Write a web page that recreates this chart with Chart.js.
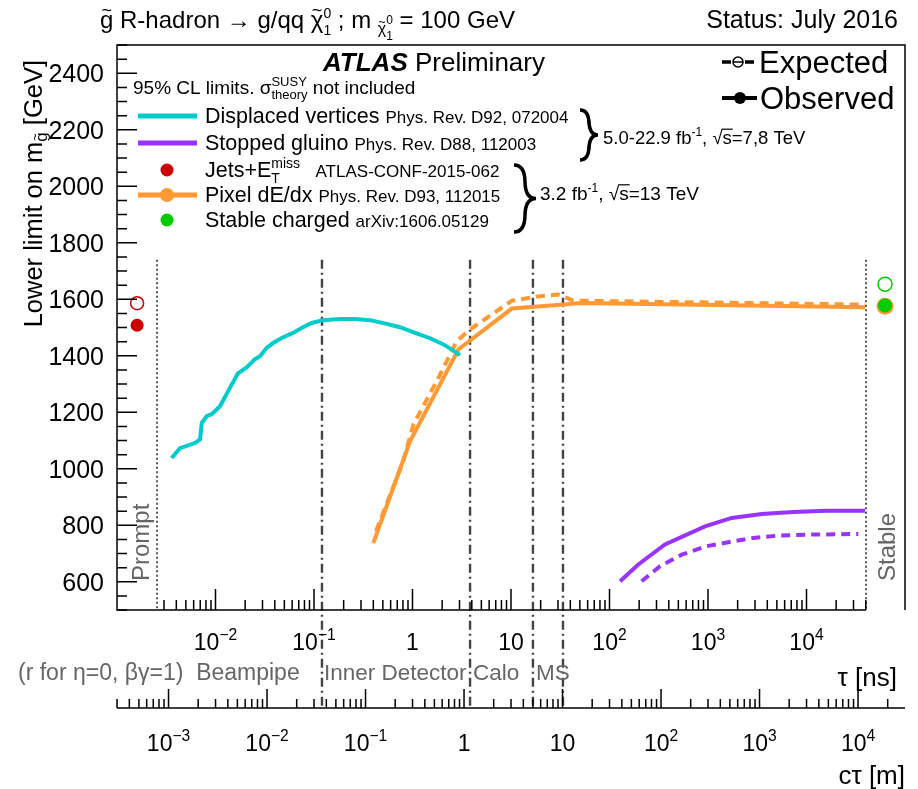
<!DOCTYPE html>
<html>
<head>
<meta charset="utf-8">
<script src="https://cdn.jsdelivr.net/npm/chart.js@4.4.0/dist/chart.umd.min.js"></script>
<style>html,body{margin:0;padding:0;background:#fff}</style>
</head>
<body>
<canvas id="c" width="918" height="789"></canvas>
<script>
// Displaced vertices (observed)
const dvTau  = [0.00359,0.00436,0.00619,0.00697,0.00725,0.00814,0.00914,0.0111,0.0134,0.0169,0.0207,0.0252,0.0283,0.0331,0.0384,0.0470,0.0612,0.0773,0.0947,0.123,0.184,0.261,0.371,0.547,0.746,1.01,1.51,2.04,2.58,3.03];
const dvMass = [1038,1073,1091,1104,1162,1186,1193,1221,1274,1338,1359,1388,1398,1428,1445,1463,1481,1501,1516,1526,1530,1530,1526,1513,1501,1484,1462,1441,1419,1402];

// Stopped gluino
const sgObsTau = [128,196,366,933,1742,3510,7350,16000,39300];
const sgObs    = [602,661,732,796,826,840,847,851,851];
const sgExpTau = [212,326,541,970,1807,2884,5383,10860,33570];
const sgExp    = [602,655,696,726,743,755,764,767,769];

// Pixel dE/dx
const pixObsTau = [0.400,0.944,2.92,10.2,34,50.2,39300];
const pixObs    = [737,1097,1422,1567,1581,1587,1572];
const pixExpTau = [0.426,0.807,1.02,1.76,2.81,3.84,10.2,19.7,30.2,42.9,39300];
const pixExp    = [779,1027,1156,1310,1451,1493,1595,1611,1617,1595,1581];
const pixStableTau = [62700];
const pixStable    = [1575];

// Jets+MET (prompt) and stable charged
const jetsTau = [0.0016];
const jetsObs = [1508];
const jetsExp = [1586];
const stableTau = [62700];
const stableObs = [1578];
const stableExp = [1653];

// detector boundaries / region lines (tau in ns)
const promptTau = 0.00255;
const stableLineTau = 40200;
const detTau = [0.1205, 3.84, 16.7, 33.7];

// axis ticks
const tauTickVals = [1e-2,1e-1,1,10,1e2,1e3,1e4];
const tauTickLabels = ['10^−2','10^−1','1','10','10^2','10^3','10^4'];
const ctTickVals = [1e-3,1e-2,1e-1,1,10,1e2,1e3,1e4];
const ctTickLabels = ['10^−3','10^−2','10^−1','1','10','10^2','10^3','10^4'];
const massTicks = [600,800,1000,1200,1400,1600,1800,2000,2200,2400];

const C_LIGHT = 0.299792458; // m/ns

const cyan = '#00CCCC', purple = '#9933FF', orange = '#FF9933', red = '#CC0000', green = '#00CC00';

const FONT = "'Liberation Sans', Arial, Helvetica, sans-serif";
function fnt(s, b, i) { return (i ? 'italic ' : '') + (b ? 'bold ' : '') + s + 'px ' + FONT; }

function zip(xs, ys) { return xs.map((x, i) => ({ x: x, y: ys[i] })); }

// draws a row of text pieces with sub/superscripts
function drawRich(ctx, x, y, segs, o) {
    o = o || {};
    const base = o.s || 20;
    const widths = segs.map(sg => {
        const s = sg.s || base;
        ctx.font = fnt(s, sg.b, sg.i);
        const w = sg.stack ? Math.max(...sg.stack.map(p => ctx.measureText(p.t).width)) : ctx.measureText(sg.t).width;
        return w + (sg.gap || 0);
    });
    const total = widths.reduce((a, b) => a + b, 0);
    let cx = o.align === 'center' ? x - total / 2 : o.align === 'right' ? x - total : x;
    ctx.textAlign = 'left';
    ctx.textBaseline = 'alphabetic';
    segs.forEach((sg, k) => {
        const s = sg.s || base;
        const parts = sg.stack || [{ t: sg.t, dy: 0 }];
        parts.forEach(p => {
            ctx.save();
            ctx.fillStyle = sg.c || o.c || '#000';
            ctx.strokeStyle = sg.c || o.c || '#000';
            ctx.font = fnt(s, sg.b, sg.i);
            ctx.translate(cx, y + (sg.dy || 0) + (p.dy || 0));
            ctx.fillText(p.t, 0, 0);
            const w = ctx.measureText(p.t).width;
            if (sg.tilde) {
                ctx.font = fnt(s * 0.75);
                ctx.textAlign = 'center';
                ctx.fillText('~', w / 2, -s * 0.5);
            }
            if (sg.over) {
                ctx.lineWidth = 1.2;
                ctx.beginPath();
                ctx.moveTo(-1, -s * 0.8);
                ctx.lineTo(w + 1, -s * 0.8);
                ctx.stroke();
            }
            ctx.restore();
        });
        cx += widths[k];
    });
    return total;
}

// "10^-2" style labels
function powSegs(lbl, s) {
    const p = lbl.split('^');
    if (p.length === 1) return [{ t: p[0], s: s }];
    return [{ t: p[0], s: s }, { t: p[1], s: s * 0.68, dy: -s * 0.42 }];
}

function brace(ctx, x, y0, y1, w) {
    const ym = (y0 + y1) / 2, q = w / 2;
    ctx.beginPath();
    ctx.moveTo(x, y0);
    ctx.quadraticCurveTo(x + q, y0, x + q, y0 + q * 1.6);
    ctx.lineTo(x + q, ym - q * 1.6);
    ctx.quadraticCurveTo(x + q, ym, x + w, ym);
    ctx.quadraticCurveTo(x + q, ym, x + q, ym + q * 1.6);
    ctx.lineTo(x + q, y1 - q * 1.6);
    ctx.quadraticCurveTo(x + q, y1, x, y1);
    ctx.lineWidth = 3.5;
    ctx.strokeStyle = '#000';
    ctx.stroke();
}

const regionLines = {
    id: 'regionLines',
    beforeDatasetsDraw(chart) {
        const ctx = chart.ctx, xs = chart.scales.x, ys = chart.scales.y, a = chart.chartArea;
        const yTop = ys.getPixelForValue(1740);
        const ctAxisY = a.bottom + 98;
        ctx.save();
        ctx.strokeStyle = '#444';
        ctx.lineWidth = 2.4;
        ctx.setLineDash([9, 4, 2, 4]);
        detTau.forEach(t => {
            const x = xs.getPixelForValue(t);
            ctx.beginPath(); ctx.moveTo(x, yTop); ctx.lineTo(x, ctAxisY); ctx.stroke();
        });
        ctx.strokeStyle = '#555';
        ctx.lineWidth = 2;
        ctx.setLineDash([2, 2.5]);
        [promptTau, stableLineTau].forEach(t => {
            const x = xs.getPixelForValue(t);
            ctx.beginPath(); ctx.moveTo(x, yTop); ctx.lineTo(x, a.bottom); ctx.stroke();
        });
        ctx.restore();
    }
};

const frameAndText = {
    id: 'frameAndText',
    afterDraw(chart) {
        const ctx = chart.ctx, xs = chart.scales.x, ys = chart.scales.y, a = chart.chartArea;
        const xP = xs.getPixelForValue(promptTau), xS = xs.getPixelForValue(stableLineTau);
        ctx.save();
        ctx.strokeStyle = '#000';
        ctx.lineWidth = 1.5;
        // frame
        ctx.beginPath();
        ctx.moveTo(xS, a.bottom); ctx.lineTo(a.left, a.bottom); ctx.lineTo(a.left, a.top);
        ctx.lineTo(a.right, a.top); ctx.lineTo(a.right, a.bottom);
        ctx.stroke();

        // y ticks
        ctx.beginPath();
        for (let v = 500; v <= 2500; v += 50) {
            const y = ys.getPixelForValue(v);
            const len = (v % 200 === 0) ? 20 : 10;
            ctx.moveTo(a.left, y); ctx.lineTo(a.left + len, y);
        }
        ctx.stroke();
        massTicks.forEach(v => {
            drawRich(ctx, a.left - 13, ys.getPixelForValue(v) + 9, [{ t: String(v) }], { s: 25, align: 'right' });
        });

        // tau axis ticks
        ctx.beginPath();
        for (let d = -3; d <= 4; d++) {
            for (let k = 1; k <= 9; k++) {
                const v = k * Math.pow(10, d);
                const x = xs.getPixelForValue(v);
                if (x < xP - 0.5 || x > xS + 0.5) continue;
                const len = k === 1 ? 21 : 10;
                ctx.moveTo(x, a.bottom); ctx.lineTo(x, a.bottom - len);
            }
        }
        ctx.stroke();
        tauTickVals.forEach((v, i) => {
            drawRich(ctx, xs.getPixelForValue(v), a.bottom + 40, powSegs(tauTickLabels[i], 23), { align: 'center' });
        });
        drawRich(ctx, a.right - 8, a.bottom + 76, [{ t: 'τ [ns]' }], { s: 26, align: 'right' });

        // c*tau axis
        const ctY = a.bottom + 98;
        ctx.beginPath();
        ctx.moveTo(a.left, ctY); ctx.lineTo(a.right, ctY);
        for (let d = -4; d <= 4; d++) {
            for (let k = 1; k <= 9; k++) {
                const v = k * Math.pow(10, d);
                const x = xs.getPixelForValue(v / C_LIGHT);
                if (x < a.left || x > a.right) continue;
                const len = k === 1 ? 19 : 9;
                ctx.moveTo(x, ctY); ctx.lineTo(x, ctY - len);
            }
        }
        ctx.stroke();
        ctTickVals.forEach((v, i) => {
            drawRich(ctx, xs.getPixelForValue(v / C_LIGHT), ctY + 43, powSegs(ctTickLabels[i], 23), { align: 'center' });
        });
        drawRich(ctx, a.right, ctY + 76, [{ t: 'cτ [m]' }], { s: 26, align: 'right' });

        // detector region labels
        const gy = a.bottom + 70, gc = '#666';
        drawRich(ctx, 18, gy, [{ t: '(r for η=0, βγ=1)  Beampipe' }], { s: 23, c: gc });
        drawRich(ctx, xs.getPixelForValue(detTau[0]) + 2, gy, [{ t: 'Inner Detector' }], { s: 22.5, c: gc });
        drawRich(ctx, xs.getPixelForValue(detTau[1]) + 3, gy, [{ t: 'Calo' }], { s: 22.5, c: gc });
        drawRich(ctx, xs.getPixelForValue(detTau[2]) + 3, gy, [{ t: 'MS' }], { s: 22.5, c: gc });

        // Prompt / Stable
        [['Prompt', xP - 8], ['Stable', xS + 29]].forEach(p => {
            ctx.save();
            ctx.translate(p[1], a.bottom - 29);
            ctx.rotate(-Math.PI / 2);
            drawRich(ctx, 0, 0, [{ t: p[0] }], { s: 24, c: '#666' });
            ctx.restore();
        });

        // y axis title
        ctx.save();
        ctx.translate(42, 60);
        ctx.rotate(-Math.PI / 2);
        drawRich(ctx, 0, 0, [
            { t: 'Lower limit on m' },
            { t: 'g', s: 17, dy: 5, tilde: true },
            { t: ' [GeV]' }
        ], { s: 25.5, align: 'right' });
        ctx.restore();

        // header
        drawRich(ctx, 100, 28, [
            { t: 'g', tilde: true }, { t: ' R-hadron → g/qq ' },
            { t: 'χ', tilde: true }, { stack: [{ t: '0', dy: -10 }, { t: '1', dy: 7 }], s: 14 },
            { t: ' ; m ' },
            { t: 'χ', s: 16, dy: 6, tilde: true }, { stack: [{ t: '0', dy: -4 }, { t: '1', dy: 12 }], s: 12 },
            { t: ' = 100 GeV' }
        ], { s: 24 });
        drawRich(ctx, 898, 28, [{ t: 'Status: July 2016' }], { s: 25, align: 'right' });

        // ATLAS Preliminary
        drawRich(ctx, 323, 71, [{ t: 'ATLAS', b: true, i: true }, { t: ' Preliminary' }], { s: 26 });
        drawRich(ctx, 133, 94, [
            { t: '95% CL limits. σ' },
            { stack: [{ t: 'SUSY', dy: -8 }, { t: 'theory', dy: 5 }], s: 13 },
            { t: ' not included' }
        ], { s: 19 });

        // expected / observed key
        ctx.lineWidth = 3.5;
        ctx.strokeStyle = '#000';
        ctx.beginPath();
        ctx.moveTo(722, 62); ctx.lineTo(731, 62);
        ctx.moveTo(745, 62); ctx.lineTo(754, 62);
        ctx.stroke();
        ctx.lineWidth = 1.5;
        ctx.beginPath(); ctx.arc(738, 62, 5, 0, Math.PI * 2); ctx.moveTo(733, 62); ctx.lineTo(743, 62); ctx.stroke();
        drawRich(ctx, 759, 73, [{ t: 'Expected' }], { s: 31 });
        ctx.lineWidth = 4;
        ctx.beginPath(); ctx.moveTo(722, 98); ctx.lineTo(757, 98); ctx.stroke();
        ctx.fillStyle = '#000';
        ctx.beginPath(); ctx.arc(740, 98, 6, 0, Math.PI * 2); ctx.fill();
        drawRich(ctx, 760, 109, [{ t: 'Observed' }], { s: 31 });

        // analysis legend
        const rows = [
            { y: 116, kind: 'line', c: cyan, segs: [{ t: 'Displaced vertices ' }, { t: 'Phys. Rev. D92, 072004', s: 17 }] },
            { y: 143, kind: 'line', c: purple, segs: [{ t: 'Stopped gluino ' }, { t: 'Phys. Rev. D88, 112003', s: 17 }] },
            { y: 170, kind: 'dot', c: red, segs: [{ t: 'Jets+E' }, { stack: [{ t: 'miss', dy: -9 }, { t: 'T', dy: 6 }], s: 14, gap: 6 }, { t: '  ATLAS-CONF-2015-062', s: 17 }] },
            { y: 195, kind: 'both', c: orange, segs: [{ t: 'Pixel dE/dx ' }, { t: 'Phys. Rev. D93, 112015', s: 17 }] },
            { y: 220, kind: 'dot', c: green, segs: [{ t: 'Stable charged ' }, { t: 'arXiv:1606.05129', s: 17 }] }
        ];
        rows.forEach(r => {
            ctx.strokeStyle = r.c; ctx.fillStyle = r.c;
            if (r.kind !== 'dot') {
                ctx.lineWidth = 5;
                ctx.beginPath(); ctx.moveTo(138, r.y); ctx.lineTo(197, r.y); ctx.stroke();
            }
            if (r.kind !== 'line') {
                ctx.beginPath(); ctx.arc(167, r.y, r.kind === 'both' ? 7 : 6.5, 0, Math.PI * 2); ctx.fill();
            }
            drawRich(ctx, 205, r.y + 7, r.segs, { s: 21.5 });
        });
        brace(ctx, 580, 110, 160, 18);
        drawRich(ctx, 603, 144, [
            { t: '5.0-22.9 fb' }, { t: '-1', s: 12, dy: -8 }, { t: ', ' },
            { t: '√' }, { t: 's', over: true }, { t: '=7,8 TeV' }
        ], { s: 18.5 });
        brace(ctx, 514, 165, 232, 22);
        drawRich(ctx, 540, 200, [
            { t: '3.2 fb' }, { t: '-1', s: 12, dy: -8 }, { t: ', ' },
            { t: '√' }, { t: 's', over: true }, { t: '=13 TeV' }
        ], { s: 19 });
        ctx.restore();
    }
};

const ctx = document.getElementById('c').getContext('2d');
const lineDs = (label, xs, ys, color, dashed, order) => ({
    label: label, data: zip(xs, ys), borderColor: color, backgroundColor: color,
    borderWidth: 4, borderDash: dashed ? [9, 6] : [], pointRadius: 0, tension: 0, fill: false, order: order
});
const dotDs = (label, xs, ys, color, open, r, order) => ({
    label: label, data: zip(xs, ys), showLine: false, borderColor: color,
    backgroundColor: open ? 'rgba(0,0,0,0)' : color, pointRadius: r, pointBorderWidth: open ? 1.5 : 0,
    order: order
});

new Chart(ctx, {
    type: 'line',
    data: {
        datasets: [
            dotDs('Stable charged observed', stableTau, stableObs, green, false, 7, 0),
            dotDs('Stable charged expected', stableTau, stableExp, green, true, 7, 0),
            dotDs('Jets+MET observed', jetsTau, jetsObs, red, false, 6.5, 0),
            dotDs('Jets+MET expected', jetsTau, jetsExp, red, true, 6.5, 0),
            dotDs('Pixel dE/dx stable', pixStableTau, pixStable, orange, false, 8.5, 1),
            lineDs('Displaced vertices', dvTau, dvMass, cyan, false, 2),
            lineDs('Pixel dE/dx observed', pixObsTau, pixObs, orange, false, 3),
            lineDs('Pixel dE/dx expected', pixExpTau, pixExp, orange, true, 4),
            lineDs('Stopped gluino observed', sgObsTau, sgObs, purple, false, 5),
            lineDs('Stopped gluino expected', sgExpTau, sgExp, purple, true, 6)
        ]
    },
    options: {
        responsive: false,
        animation: false,
        layout: { padding: { left: 117, top: 45, right: 13, bottom: 179 } },
        scales: {
            x: { type: 'logarithmic', min: 1e-3, max: 1e5, display: false },
            y: { type: 'linear', min: 500, max: 2500, display: false }
        },
        plugins: { legend: { display: false }, tooltip: { enabled: false } }
    },
    plugins: [regionLines, frameAndText]
});
</script>
</body>
</html>
